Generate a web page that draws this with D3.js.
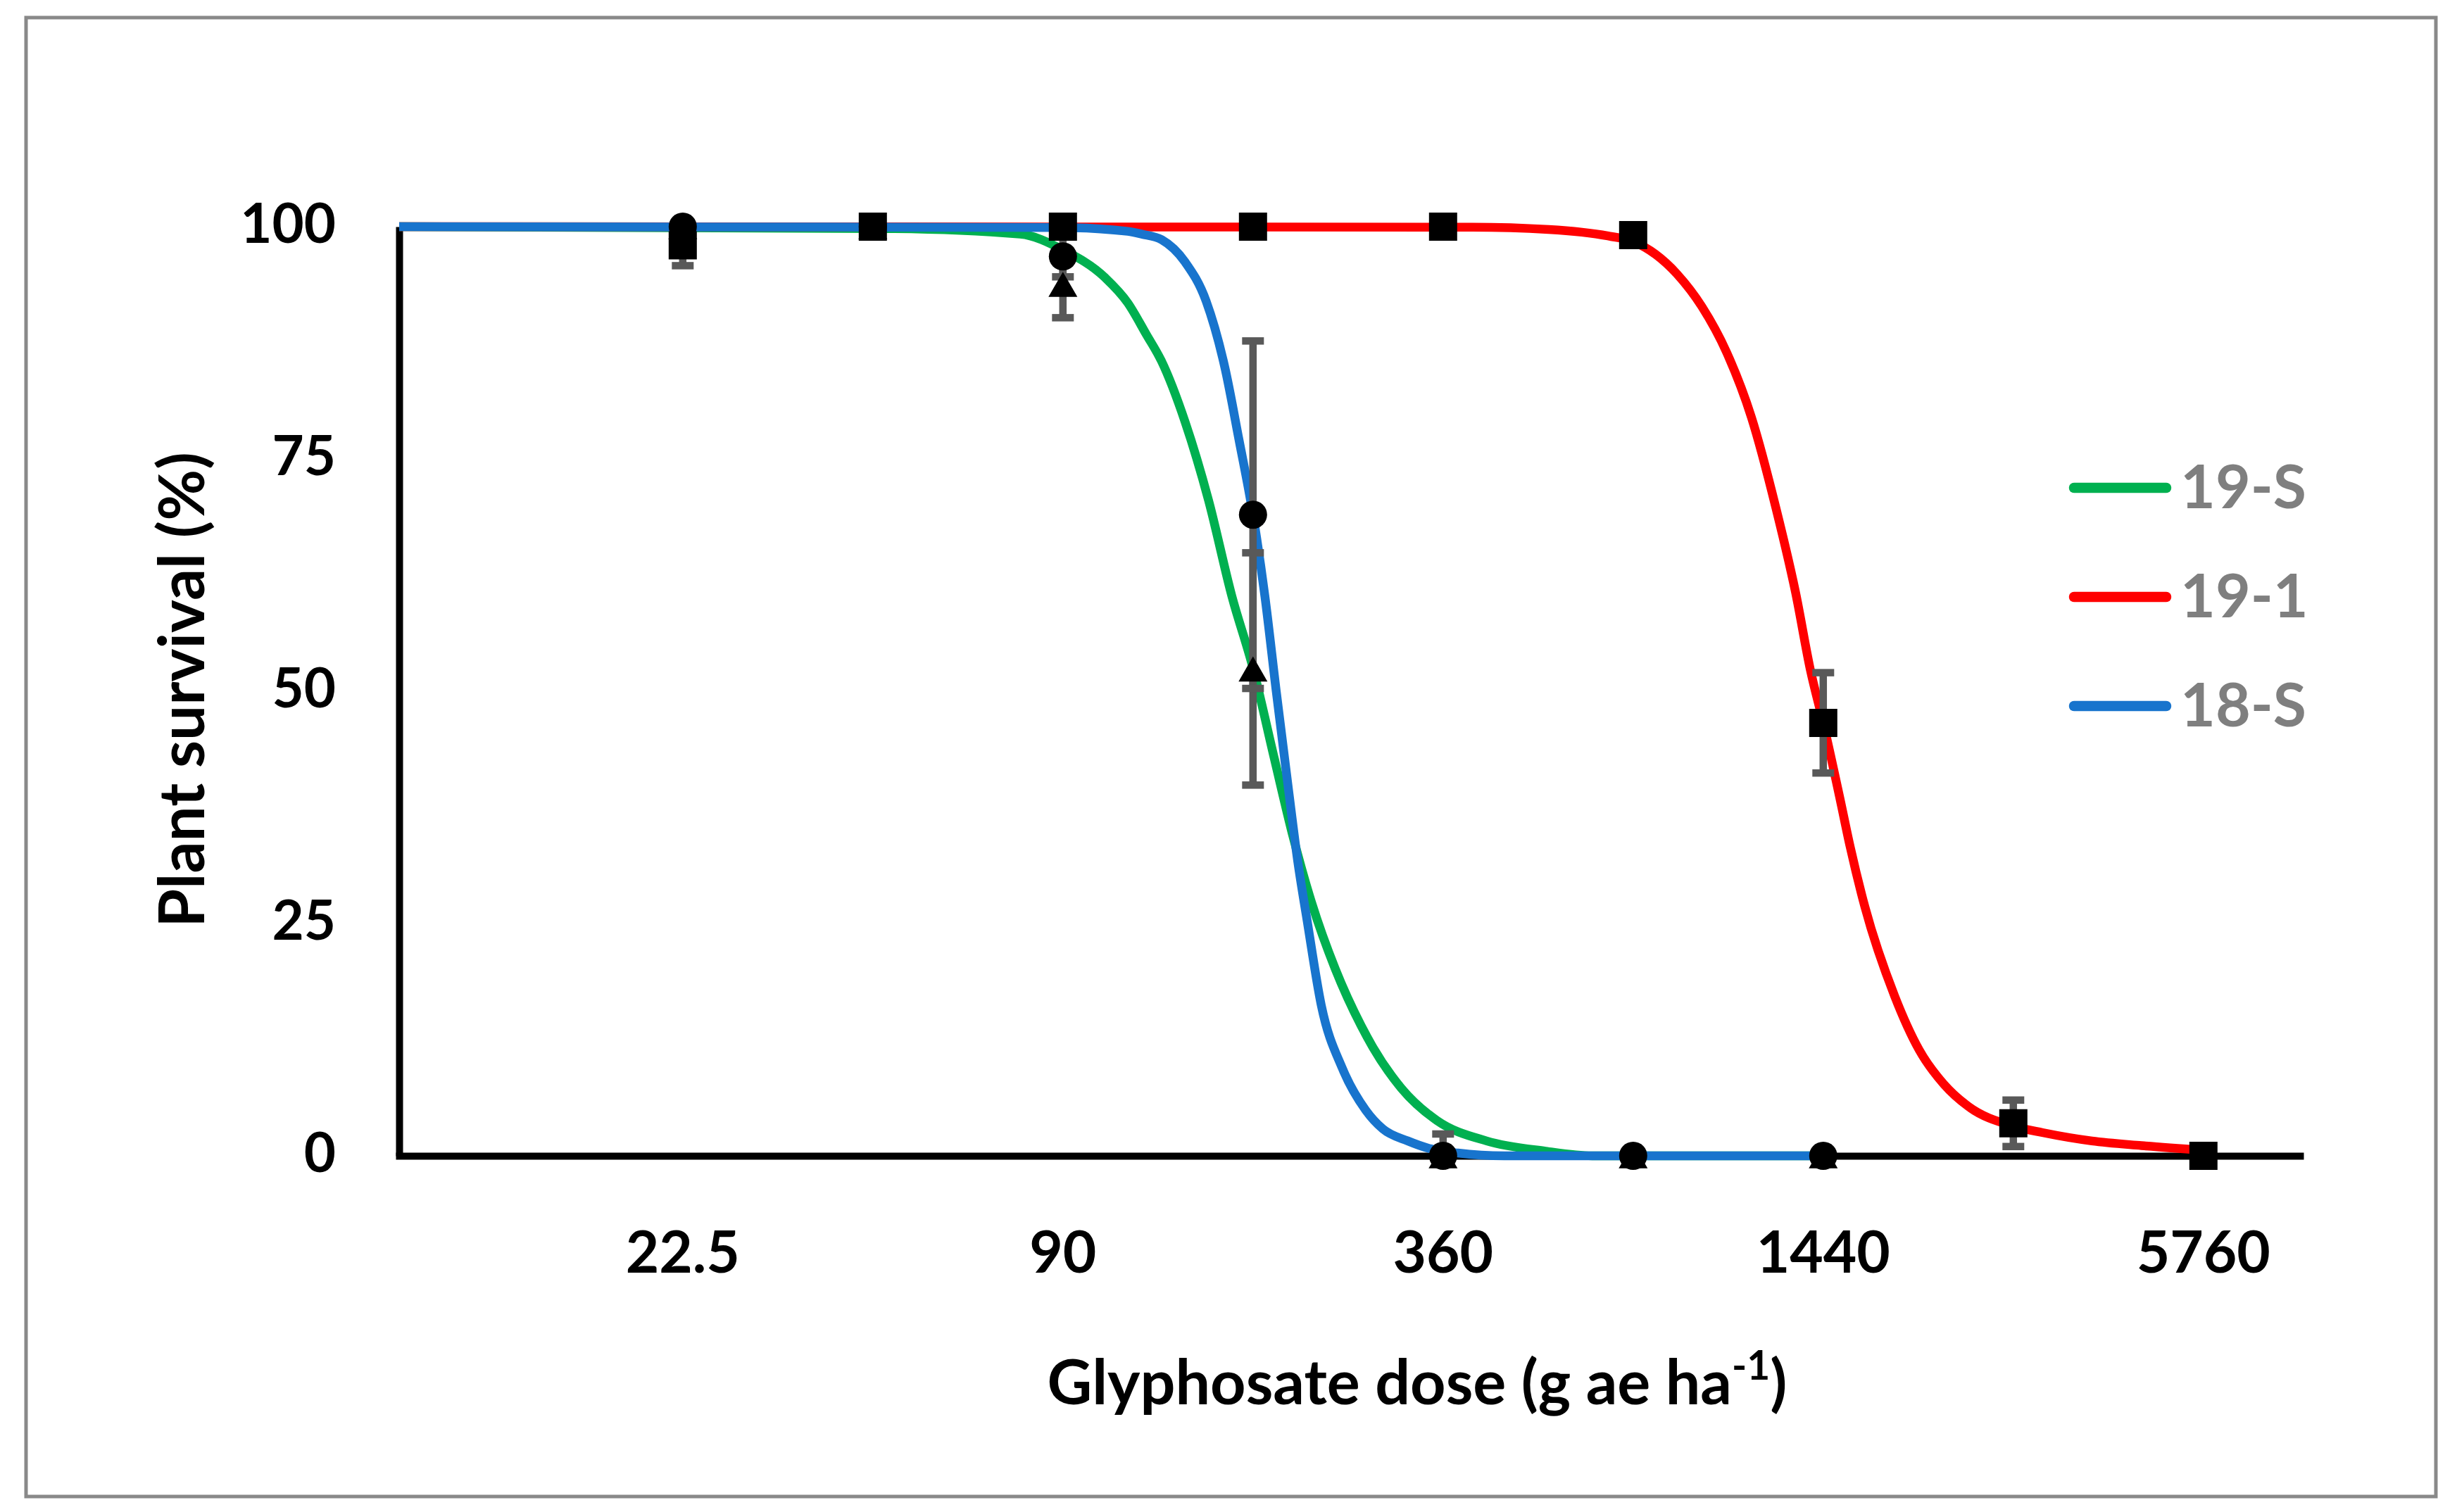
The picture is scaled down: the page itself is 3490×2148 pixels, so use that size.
<!DOCTYPE html>
<html>
<head>
<meta charset="utf-8">
<script src="https://cdn.jsdelivr.net/npm/d3@7"></script>
<style>
  body { margin: 0; background: #fff; }
  text { font-family: Lato, "Open Sans", sans-serif; font-weight: bold; }
</style>
</head>
<body>
<script>
// observed doses (g ae ha-1) and tick labels
var doses = [22.5, 45, 90, 180, 360, 720, 1440, 2880, 5760];
var xTicks = [22.5, 90, 360, 1440, 5760];
var yTicks = [0, 25, 50, 75, 100];
var names = ["19-S", "19-1", "18-S"];

// mean survival and error per dose (null = not tested)
var mean19S = [100, 100, 93.8, 52.4, 0, 0, 0, null, null];
var err19S  = [0, 0, 3.6, 12.5, 2.35, 0, 0, null, null];
var mean191 = [98.0, 100, 100, 100, 100, 99.1, 46.6, 3.5, 0];
var err191  = [2.2, 0, 0, 0, 0, 0, 5.4, 2.5, 0];
var mean18S = [100, 100, 96.8, 69.0, 0, 0, 0, null, null];
var err18S  = [0, 0, 2.2, 18.7, 0, 0, 0, null, null];

// fitted curves as [dose, survival]
var fit19S = [[8,100],[47,99.8],[77,99.2],[90,97.5],[105,94.5],[114,91.8],[122,88.4],[129,85.5],
  [140.5,79],[153,70.6],[166.7,60.2],[180,52.5],[194.5,42.8],[208.4,34.3],[223,27.2],[243,20.1],
  [267,14.0],[278.6,11.7],[309,7.3],[352,3.8],[422,1.6],[523,0.5],[620,0],[1440,0]];
var fit191 = [[8,100],[400,99.95],[529,99.7],[657,99.0],[720,98.4],[845,94.9],[925,91.4],
  [1012,86.5],[1108,79.5],[1212,69.7],[1302,60.6],[1375,52.2],[1440,46.6],[1531,38.4],
  [1588,33.3],[1676,26.8],[1868,17.2],[2043,11.4],[2236,7.7],[2446,5.3],[2880,3.2],
  [3203,2.5],[3835,1.6],[4594,1.1],[5760,0.6]];
var fit18S = [[8,100],[90,99.9],[114,99.5],[120,99.2],[129,98.6],[140.5,96.2],[151.7,92.0],
  [162.5,84.8],[171,77.1],[180,69],[188,60.2],[196,49.9],[204.8,39.5],[211.9,31.7],[219.3,25.3],
  [230.9,16.2],[249.4,9.4],[271.6,4.9],[289,2.9],[316.6,1.6],[342,0.8],[380,0.3],[450,0],[1440,0]];

var colors = {"19-S": "#00b050", "19-1": "#ff0000", "18-S": "#1874cd"};

var W = 3490, H = 2148;
var svg = d3.select("body").append("svg")
  .attr("width", W)
  .attr("height", H);

svg.append("rect")
  .attr("width", W).attr("height", H)
  .attr("fill", "#fff");

// outer frame
svg.append("rect")
  .attr("x", 37).attr("y", 25)
  .attr("width", 3423).attr("height", 2101)
  .attr("fill", "none")
  .attr("stroke", "#898989")
  .attr("stroke-width", 5);

var x = d3.scaleLog().base(2).domain([8, 8192]).range([567, 3267]);
var y = d3.scaleLinear().domain([0, 100]).range([1642, 322]);

// axes: plain lines, no ticks
var xAxis = d3.axisBottom(x).tickValues([]).tickSizeOuter(0);
var yAxis = d3.axisLeft(y).tickValues([]).tickSizeOuter(0);
var gx = svg.append("g").attr("transform", "translate(0," + y(0) + ")").call(xAxis);
var gy = svg.append("g").attr("transform", "translate(" + x(8) + ",0)").call(yAxis);
gx.select(".domain").attr("stroke", "#000").attr("stroke-width", 10).attr("stroke-linecap", "square");
gy.select(".domain").attr("stroke", "#000").attr("stroke-width", 10);

// tick labels
svg.selectAll(".ylab")
  .data(yTicks)
  .enter()
  .append("text")
  .attr("class", "ylab")
  .attr("x", 477)
  .attr("y", function(d) { return y(d) - 5; })
  .attr("dy", "0.36em")
  .attr("text-anchor", "end")
  .attr("font-size", 78)
  .text(function(d) { return d; });

svg.selectAll(".xlab")
  .data(xTicks)
  .enter()
  .append("text")
  .attr("class", "xlab")
  .attr("x", function(d) { return x(d); })
  .attr("y", 1808)
  .attr("text-anchor", "middle")
  .attr("font-size", 82)
  .text(function(d) { return d; });

// axis titles
var xt = svg.append("text")
  .attr("x", 2013).attr("y", 1995)
  .attr("text-anchor", "middle")
  .attr("font-size", 88);
xt.append("tspan").text("Glyphosate dose (g ae ha");
xt.append("tspan").attr("font-size", 57).attr("dy", -35).text("-1");
xt.append("tspan").attr("dy", 35).text(")");

svg.append("text")
  .attr("transform", "translate(290,980) rotate(-90)")
  .attr("text-anchor", "middle")
  .attr("font-size", 89)
  .text("Plant survival (%)");

// fitted curves (drawn in series order)
var line = d3.line()
  .x(function(d) { return x(d[0]); })
  .y(function(d) { return y(d[1]); })
  .curve(d3.curveMonotoneX);

var fits = [["19-S", fit19S], ["19-1", fit191], ["18-S", fit18S]];
svg.append("g").selectAll("path")
  .data(fits)
  .enter()
  .append("path")
  .attr("d", function(d) { return line(d[1]); })
  .attr("fill", "none")
  .attr("stroke", function(d) { return colors[d[0]]; })
  .attr("stroke-width", 12.5)
  .attr("stroke-linejoin", "round");

// observations
function pts(means, errs, shape) {
  return doses.map(function(d, i) {
    return {dose: d, v: means[i], e: errs[i], shape: shape};
  }).filter(function(p) { return p.v !== null; });
}
var obs = pts(mean19S, err19S, d3.symbolTriangle)
  .concat(pts(mean191, err191, d3.symbolSquare))
  .concat(pts(mean18S, err18S, d3.symbolCircle));

// error bars, clipped to the plot area like the original
var bars = svg.append("g").selectAll("g")
  .data(obs.filter(function(p) { return p.e > 0; }))
  .enter()
  .append("g")
  .attr("stroke", "#595959")
  .attr("stroke-width", 10.5);
bars.append("line")
  .attr("x1", function(p) { return x(p.dose); })
  .attr("x2", function(p) { return x(p.dose); })
  .attr("y1", function(p) { return y(Math.min(p.v + p.e, 100.5)); })
  .attr("y2", function(p) { return y(Math.max(p.v - p.e, 0)); });
bars.filter(function(p) { return p.v + p.e <= 100.5; })
  .append("line")
  .attr("x1", function(p) { return x(p.dose) - 15.5; })
  .attr("x2", function(p) { return x(p.dose) + 15.5; })
  .attr("y1", function(p) { return y(p.v + p.e); })
  .attr("y2", function(p) { return y(p.v + p.e); });
bars.filter(function(p) { return p.v - p.e >= 0; })
  .append("line")
  .attr("x1", function(p) { return x(p.dose) - 15.5; })
  .attr("x2", function(p) { return x(p.dose) + 15.5; })
  .attr("y1", function(p) { return y(p.v - p.e); })
  .attr("y2", function(p) { return y(p.v - p.e); });

var sizes = new Map([[d3.symbolTriangle, 730], [d3.symbolSquare, 1600], [d3.symbolCircle, 1257]]);
svg.append("g").selectAll("path")
  .data(obs)
  .enter()
  .append("path")
  .attr("transform", function(p) {
    // triangles are centred on their box, not their centroid
    var dy = p.shape === d3.symbolTriangle ? 6 : 0;
    return "translate(" + x(p.dose) + "," + (y(p.v) + dy) + ")";
  })
  .attr("d", function(p) { return d3.symbol(p.shape, sizes.get(p.shape))(); })
  .attr("fill", "#000");

// legend
var leg = svg.append("g").selectAll("g")
  .data(names)
  .enter()
  .append("g")
  .attr("transform", function(d, i) { return "translate(0," + (693 + i * 155) + ")"; });
leg.append("line")
  .attr("x1", 2946).attr("x2", 3077)
  .attr("stroke", function(d) { return colors[d]; })
  .attr("stroke-width", 14.5)
  .attr("stroke-linecap", "round");
leg.append("text")
  .attr("x", 3097).attr("y", 29)
  .attr("font-size", 86)
  .attr("fill", "#7f7f7f")
  .text(function(d) { return d; });
</script>
</body>
</html>
